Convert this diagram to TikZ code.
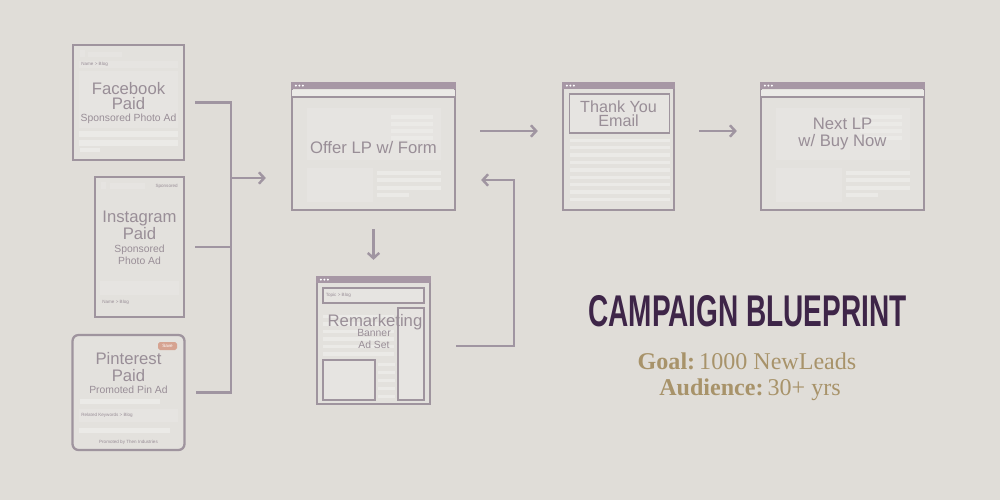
\documentclass[tikz,border=0pt]{standalone}
\usepackage{fontspec}
\setmainfont{Liberation Sans}
\newfontfamily\goalfont{Liberation Serif}
\newfontfamily\headfont[FakeStretch=0.63]{Liberation Sans Bold}
\usetikzlibrary{arrows.meta}
\definecolor{bgc}{HTML}{E0DDD8}
\definecolor{boxfill}{HTML}{E3E1DD}
\definecolor{boxline}{HTML}{9F949E}
\definecolor{barc}{HTML}{A797A5}
\definecolor{blkc}{HTML}{E6E4E1}
\definecolor{lnc}{HTML}{EBEAE7}
\definecolor{txtc}{HTML}{998E97}
\definecolor{connc}{HTML}{A095A1}
\definecolor{titlec}{HTML}{3E2548}
\definecolor{goldc}{HTML}{A8936A}
\definecolor{tagc}{HTML}{D6A391}
\tikzset{
	box/.style={draw=boxline,fill=boxfill,line width=1.3pt,inner sep=0pt},
	blk/.style={fill=blkc},
	ln/.style={fill=lnc},
	frame/.style={draw=boxline,line width=0.6pt,fill=blkc},
	lbl/.style={text=txtc,align=center,font=\fontsize{9.5}{8.5}\selectfont},
	sub/.style={text=txtc,align=center,font=\fontsize{5.9}{6.8}\selectfont},
	fineprint/.style={text=txtc,inner sep=0pt,font=\fontsize{2.6}{3}\selectfont},
	conn/.style={draw=connc,line width=1.4pt},
	arr/.style={conn,-{Straight Barb[length=3pt,width=6.5pt]}}
}
\begin{document}
\begin{tikzpicture}[x=0.02cm,y=-0.02cm]
			\fill[bgc] (0,0) rectangle (1000,500);
			\useasboundingbox (0,0) rectangle (1000,500);
			% ad boxes
			\node[box,minimum width=2.22cm,minimum height=2.3cm] (fb) at (128.5,102.5) {};
			\node[box,minimum width=1.78cm,minimum height=2.8cm] (ig) at (139.5,247) {};
			\node[box,rounded corners=0.12cm,minimum width=2.24cm,minimum height=2.3cm] (pin) at (128.5,392.5) {};
			% facebook
			\fill[blk] (80,50) rectangle (85,57);
			\fill[blk] (88,52) rectangle (122,57);
			\fill[blk] (79,61) rectangle (178,68);
			\node[fineprint,anchor=west] (fbname) at (81,64.5) {Name > Blog};
			\fill[blk] (79,71) rectangle (178,128);
			\fill[ln] (79,131) rectangle (178,137);
			\fill[ln] (79,140) rectangle (178,146);
			\fill[ln] (80,148) rectangle (100,152);
			\node[lbl] (fbt) at (128.5,96.5) {Facebook\\Paid};
			\node[sub] (fbs) at (128.5,119) {Sponsored Photo Ad};
			% instagram
			\fill[blk] (101,182) rectangle (106,189);
			\fill[blk] (110,183) rectangle (145,189);
			\node[fineprint,anchor=east] (igsp) at (178,186) {Sponsored};
			\fill[blk] (100,281) rectangle (179,295);
			\node[fineprint,anchor=west] (igname) at (102,302) {Name > Blog};
			\node[lbl] (igt) at (139.5,225.5) {Instagram\\Paid};
			\node[sub] (igs) at (139.5,255) {Sponsored\\Photo Ad};
			% pinterest
			\fill[tagc,rounded corners=1pt] (158,342) rectangle (177,350);
			\node[fineprint,text=white] (save) at (167.5,346) {Save};
			\node[lbl,font=\fontsize{9.5}{10}\selectfont] (pint) at (128.5,367) {Pinterest\\Paid};
			\node[sub] (pins) at (128.5,390) {Promoted Pin Ad};
			\fill[ln] (80,399) rectangle (160,404);
			\fill[blk] (79,409) rectangle (178,422);
			\node[fineprint,anchor=west] (pinkw) at (81,415.5) {Related Keywords > Blog};
			\fill[ln] (79,428) rectangle (170,433);
			\node[fineprint] (pinby) at (128.5,442) {Promoted by Then Industries};
			% joining lines
			\coordinate (join) at (231,178);
			\draw[conn] ([xshift=.2cm]fb.east) -| (join |- pin.east) -- ([xshift=.2cm]pin.east);
			\draw[conn] ([xshift=.2cm]ig.east) -- (ig.east -| join);
			% pages
			\node[box,minimum width=3.26cm,minimum height=2.54cm] (offer) at (373.5,146.5) {};
			\node[box,minimum width=2.26cm,minimum height=2.54cm] (rem) at (373.5,340.5) {};
			\node[box,minimum width=2.22cm,minimum height=2.54cm] (ty) at (618.5,146.5) {};
			\node[box,minimum width=3.26cm,minimum height=2.54cm] (next) at (842.5,146.5) {};
			\draw[arr] (join) -- ([xshift=-.5cm]join -| offer.west);
			\foreach \n in {offer,next}{
				\begin{scope}[shift={(\n.center)}]
					\fill[ln] (-81.5,-56.5) rectangle (81.5,-49.5);
					\draw[boxline,line width=0.7pt] (-81.5,-49.5) -- (81.5,-49.5);
					\fill[blk] (-67,-38.5) rectangle (67,13.5);
					\foreach \y in {-32,-25,-18,-11} \fill[ln] (17,\y) rectangle (59,\y+4);
					\fill[blk] (-67,21.5) rectangle (-1,55.5);
					\foreach \y in {24,31.5,39} \fill[ln] (3,\y) rectangle (67,\y+4);
					\fill[ln] (3,46.5) rectangle (35,50.5);
				\end{scope}
			}
			\begin{scope}[shift={(ty.center)}]
				\draw[frame] (-49,-52.5) rectangle (51,-13.5);
				\foreach \y in {-8,-0.6,...,52} \fill[ln] (-49,\y) rectangle (51,\y+3.5);
			\end{scope}
			\begin{scope}[shift={(rem.center)}]
				\draw[frame] (-50.5,-52.5) rectangle (50.5,-37.5);
				\node[fineprint,anchor=west] (topic) at (-48,-45) {Topic > Blog};
				\foreach \y in {-26,-18.5,...,12} \fill[ln] (-50.5,\y) rectangle (20,\y+3.5);
				\draw[frame] (24.5,-32.5) rectangle (50.5,59.5);
				\draw[frame] (-50.5,19.5) rectangle (1.5,59.5);
				\foreach \y in {22,30,...,54} \fill[ln] (4.5,\y) rectangle (21,\y+3);
			\end{scope}
			\foreach \n in {offer,rem,ty,next}{
				\fill[barc] (\n.north west) rectangle ([yshift=-.15cm]\n.north east);
				\foreach \k in {1,2,3}
				\fill[white] ([xshift=\k*0.07cm+0.03cm,yshift=-.075cm]\n.north west) circle (0.6pt);
			}
			\node[lbl] (offert) at (373.5,148) {Offer LP w/ Form};
			\node[lbl] (remt) at (375,322.5) {Remarketing};
			\node[sub] (rems) at (374,339) {Banner\\Ad Set};
			\node[lbl,font=\fontsize{9.2}{8}\selectfont] (tyt) at (618.5,114) {Thank You\\Email};
			\node[lbl,font=\fontsize{9.5}{10}\selectfont] (nextt) at (842.5,134) {Next LP\\w/ Buy Now};
			% arrows between pages
			\draw[arr] ([xshift=.48cm,yshift=.31cm]offer.east) -- ([xshift=-.48cm,yshift=.31cm]ty.west);
			\draw[arr] ([xshift=.48cm,yshift=.31cm]ty.east) -- ([xshift=-.46cm,yshift=.31cm]next.west);
			\draw[arr] ([yshift=-.36cm]offer.south) -- ([yshift=.32cm]rem.north);
			\coordinate (back) at (514,180);
			\draw[arr] ([xshift=.5cm,yshift=-.11cm]rem.east) -| (back) -- ([xshift=.5cm]back -| offer.east);
			% title
			\node[font=\headfont\fontsize{25.3}{26}\selectfont,text=titlec] (title) at (747.5,311) {CAMPAIGN BLUEPRINT};
			\node[font=\goalfont\fontsize{13.7}{16}\selectfont,text=goldc] (goal) at (747,361) {\textbf{Goal:}\,1000 NewLeads};
			\node[font=\goalfont\fontsize{13.7}{16}\selectfont,text=goldc] (aud) at (750,390) {\textbf{Audience:}\,30+ yrs};
		\end{tikzpicture}
\end{document}
